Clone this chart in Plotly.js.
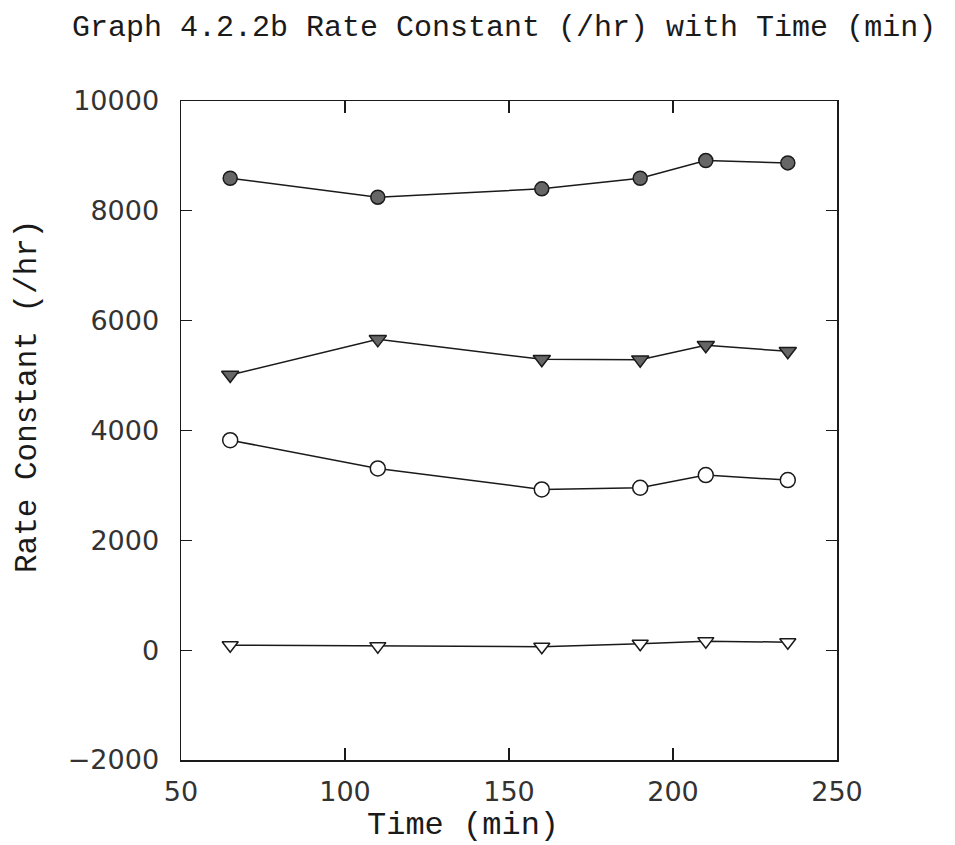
<!DOCTYPE html>
<html>
<head>
<meta charset="utf-8">
<script src="https://cdn.plot.ly/plotly-3.0.1.min.js"></script>
<style>html,body{margin:0;padding:0;background:#fff;}#chart{width:955px;height:845px;}</style>
</head>
<body>
<div id="chart"></div>
<script>
// Data
const time = [65, 110, 160, 190, 210, 235];
const filledCircle = [8594, 8249, 8400, 8594, 8915, 8873];
const filledTriangle = [5012, 5660, 5296, 5290, 5551, 5442];
const openCircle = [3824, 3309, 2927, 2958, 3188, 3097];
const openTriangle = [91, 73, 62, 116, 164, 145];

const xTicks = [50, 100, 150, 200, 250];
const yTicks = [-2000, 0, 2000, 4000, 6000, 8000, 10000];

const titleText = 'Graph 4.2.2b Rate Constant (/hr) with Time (min)';
const xTitle = 'Time (min)';
const yTitle = 'Rate Constant (/hr)';

const lineStyle = {color: '#1a1a1a', width: 1.5};
function series(y, symbol, fill, size) {
  return {
    x: time, y: y, type: 'scatter', mode: 'lines+markers',
    line: lineStyle,
    marker: {symbol: symbol, size: size, color: fill, line: {color: '#1a1a1a', width: 1.5}},
    showlegend: false, hoverinfo: 'x+y'
  };
}

const data = [
  series(filledCircle, 'circle', '#666666', 14),
  series(filledTriangle, 'triangle-down', '#666666', 15),
  series(openCircle, 'circle', '#ffffff', 15),
  series(openTriangle, 'triangle-down', '#ffffff', 14)
];

const tickFont = {family: 'DejaVu Sans', size: 27, color: '#333333'};
const monoFont = {family: 'Liberation Mono, DejaVu Sans Mono, monospace', color: '#1a1a1a'};

const layout = {
  width: 955, height: 845,
  paper_bgcolor: '#ffffff', plot_bgcolor: '#ffffff',
  margin: {l: 181, r: 118, t: 101, b: 85, pad: 0},
  title: {
    text: titleText,
    x: 72 / 955, xanchor: 'left', xref: 'container',
    y: 1 - 25 / 845, yanchor: 'middle', yref: 'container',
    font: Object.assign({size: 30}, monoFont)
  },
  xaxis: {
    range: [50, 250], tickvals: xTicks, ticktext: xTicks.map(String),
    ticks: 'inside', ticklen: 12, tickwidth: 1.3, tickcolor: '#1a1a1a',
    showline: true, linecolor: '#1a1a1a', linewidth: 1.5, mirror: 'allticks',
    showgrid: false, zeroline: false,
    tickfont: tickFont, ticklabelstandoff: 7
  },
  yaxis: {
    range: [-2000, 10000], tickvals: yTicks, ticktext: yTicks.map(v => v < 0 ? '\u2212' + Math.abs(v) : String(v)),
    ticks: 'inside', ticklen: 11, tickwidth: 1.3, tickcolor: '#1a1a1a',
    showline: true, linecolor: '#1a1a1a', linewidth: 1.5, mirror: 'allticks',
    showgrid: false, zeroline: false,
    tickfont: tickFont, ticklabelstandoff: 15
  },
  annotations: [
    {
      text: xTitle, xref: 'paper', yref: 'paper',
      x: (463 - 181) / 656, y: (760 - 826) / 659,
      xanchor: 'center', yanchor: 'middle', showarrow: false,
      font: Object.assign({size: 32}, monoFont)
    },
    {
      text: yTitle, xref: 'paper', yref: 'paper',
      x: (28 - 181) / 656, y: (760 - 397) / 659,
      xanchor: 'center', yanchor: 'middle', showarrow: false, textangle: -90,
      font: Object.assign({size: 31}, monoFont)
    }
  ]
};

Plotly.newPlot('chart', data, layout, {staticPlot: true, displayModeBar: false});
</script>
</body>
</html>
